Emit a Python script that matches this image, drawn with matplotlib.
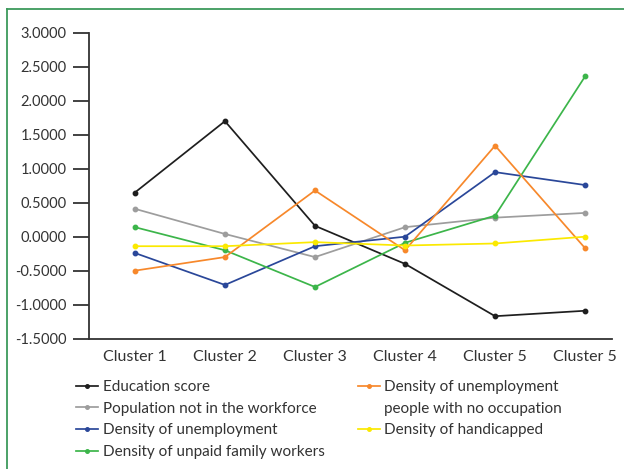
import matplotlib.pyplot as plt
from matplotlib.lines import Line2D
from matplotlib.ticker import FormatStrFormatter

plt.rcParams["font.family"] = ["Lato", "DejaVu Sans"]

clusters = ["Cluster 1", "Cluster 2", "Cluster 3", "Cluster 4", "Cluster 5", "Cluster 5"]

education = [0.65, 1.70, 0.16, -0.40, -1.17, -1.09]
not_in_workforce = [0.41, 0.04, -0.30, 0.14, 0.28, 0.35]
unemployment = [-0.24, -0.71, -0.14, 0.00, 0.95, 0.76]
unpaid_family = [0.14, -0.20, -0.74, -0.09, 0.31, 2.36]
no_occupation = [-0.50, -0.30, 0.68, -0.20, 1.34, -0.17]
handicapped = [-0.14, -0.14, -0.08, -0.13, -0.10, 0.00]

left_series = [
    ("Education score", education, "#1e1e1e"),
    ("Population not in the workforce", not_in_workforce, "#9d9d9d"),
    ("Density of unemployment", unemployment, "#2a4799"),
    ("Density of unpaid family workers", unpaid_family, "#3cb54a"),
]
right_series = [
    ("Density of unemployment", no_occupation, "#f7882b"),
    ("Density of handicapped", handicapped, "#fbe900"),
]

fig = plt.figure(figsize=(6.24, 4.69), dpi=100)
ax = fig.add_axes([0.142, 0.278, 0.838, 0.652])

x = range(len(clusters))
left_handles, right_handles = [], []
for label, vals, color in left_series:
    (h,) = ax.plot(x, vals, color=color, lw=1.25, marker="o", ms=3.2)
    left_handles.append(h)
for label, vals, color in right_series:
    (h,) = ax.plot(x, vals, color=color, lw=1.25, marker="o", ms=3.2)
    right_handles.append(h)

ax.set_xlim(-0.514, 5.293)
ax.set_ylim(-1.5, 3.0)
ax.set_yticks([-1.5, -1.0, -0.5, 0.0, 0.5, 1.0, 1.5, 2.0, 2.5, 3.0])
ax.yaxis.set_major_formatter(FormatStrFormatter("%.4f"))
ax.set_xticks(list(x))
ax.set_xticklabels(clusters)

for side in ("top", "right"):
    ax.spines[side].set_visible(False)
for side in ("left", "bottom"):
    ax.spines[side].set_color("#333333")
    ax.spines[side].set_linewidth(1.3)
ax.tick_params(axis="y", length=11.5, width=1.3, color="#333333", pad=4.5,
               labelsize=10.5, labelcolor="#333333")
ax.tick_params(axis="x", length=0, pad=8, labelsize=11.5, labelcolor="#333333")

leg_kw = dict(frameon=False, fontsize=11, handlelength=1.45, handletextpad=0.3,
              labelspacing=0.51, borderaxespad=0, borderpad=0, labelcolor="#333333",
              markerscale=0.8)
fig.legend(handles=left_handles, labels=[s[0] for s in left_series],
           loc="upper left", bbox_to_anchor=(0.122, 0.19), **leg_kw)
# the orange entry wraps onto a second row with no marker
blank = Line2D([], [], color="none")
fig.legend(handles=[right_handles[0], blank, right_handles[1]],
           labels=["Density of unemployment", "people with no occupation",
                   "Density of handicapped"],
           loc="upper left", bbox_to_anchor=(0.573, 0.19), **leg_kw)

# green frame along the top and left edges
fig.add_artist(Line2D([0.012, 1.0], [0.981, 0.981], color="#3d9a5c", lw=1.3,
                      transform=fig.transFigure))
fig.add_artist(Line2D([0.012, 0.012], [0.0, 0.981], color="#3d9a5c", lw=1.3,
                      transform=fig.transFigure))

fig.savefig("out.png", dpi=100)
